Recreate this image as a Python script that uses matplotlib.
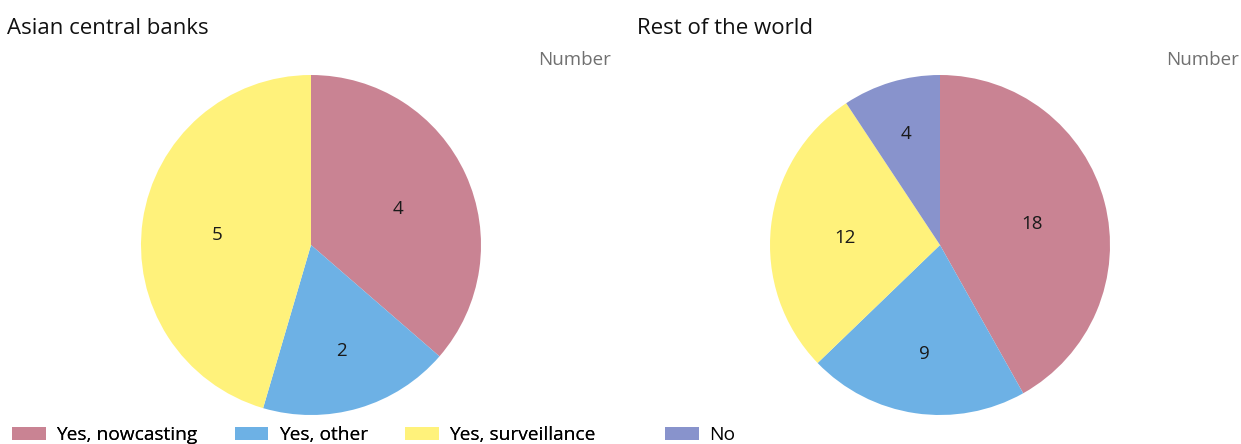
import matplotlib
matplotlib.use("Agg")
import matplotlib.pyplot as plt
from matplotlib.patches import Patch
import numpy as np

plt.rcParams['font.family'] = ['Open Sans', 'DejaVu Sans']

categories = ["Yes, nowcasting", "Yes, other", "Yes, surveillance", "No"]
colors = ["#C98393", "#6DB1E5", "#FFF27B", "#8893CC"]

asia_values = [4, 2, 5, 0]
rest_values = [18, 9, 12, 4]

panel_titles = ["Asian central banks", "Rest of the world"]
unit_label = "Number"

W, H = 1241, 444
fig = plt.figure(figsize=(W / 100, H / 100), dpi=100)

def draw_pie(cx, title_x, unit_x, values, title):
    r = 170
    cy = 245
    ax = fig.add_axes([(cx - r) / W, (H - cy - r) / H, 2 * r / W, 2 * r / H])
    vals = [v for v in values if v > 0]
    cols = [c for v, c in zip(values, colors) if v > 0]
    wedges, _ = ax.pie(vals, colors=cols, startangle=90, counterclock=False,
                       radius=1.0, wedgeprops=dict(linewidth=0))
    total = sum(vals)
    start = 90.0
    for v, w in zip(vals, wedges):
        span = v / total * 360
        mid = np.deg2rad(start - span / 2)
        d = 0.56 if span > 90 else 0.63
        if span < 40:
            d = 0.70
        ax.text(d * np.cos(mid), d * np.sin(mid) - 0.02, str(v), ha='center', va='center',
                fontsize=13.5, color='#1a1a1a')
        start -= span
    ax.set_xlim(-1, 1)
    ax.set_ylim(-1, 1)
    ax.set_aspect('equal')
    ax.axis('off')
    fig.text(title_x / W, 1 - 28 / H, title, fontsize=16, ha='left', va='center', color='#111111')
    fig.text(unit_x / W, 1 - 60 / H, unit_label, fontsize=13.5, ha='right', va='center', color='#707070')

draw_pie(311, 7, 611, asia_values, panel_titles[0])
draw_pie(940, 637, 1239, rest_values, panel_titles[1])

handles = [Patch(facecolor=c, edgecolor='none') for c in colors]
legkw = dict(frameon=False, fontsize=13.8, handlelength=1.75, handleheight=0.65,
             handletextpad=0.55, borderaxespad=0, borderpad=0)
leg1 = fig.legend(handles[:3], categories[:3], loc='center left', bbox_to_anchor=(12 / W, 1 - 435 / H),
                  ncol=3, columnspacing=1.95, **legkw)
fig.add_artist(leg1)
fig.legend(handles[3:], categories[3:], loc='center left', bbox_to_anchor=(665 / W, 1 - 435 / H),
           ncol=1, **legkw)

fig.savefig("out.png", dpi=100)
